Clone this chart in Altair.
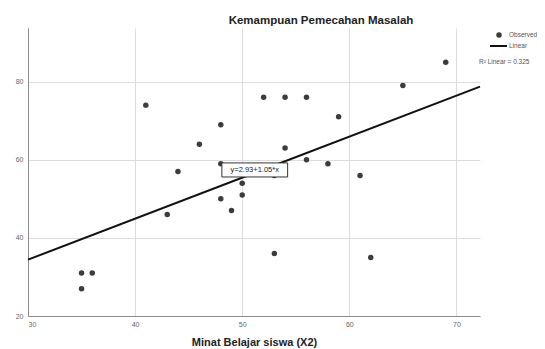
import altair as alt
import pandas as pd

# Observed points (Minat Belajar siswa (X2), Kemampuan Pemecahan Masalah)
minat = [69, 65, 41, 52, 54, 56, 59, 48, 46, 54, 56, 58, 48, 44, 61, 53,
         50, 50, 48, 49, 43, 53, 62, 35, 36, 35]
kemampuan = [85, 79, 74, 76, 76, 76, 71, 69, 64, 63, 60, 59, 59, 57, 56, 56,
             54, 51, 50, 47, 46, 36, 35, 31, 31, 27]

# Linear fit as printed on the chart
fit_intercept = 2.93
fit_slope = 1.05
fit_x_range = [30, 72.2]
fit_label = "y=2.93+1.05*x"
r2_label = "R² Linear = 0.325"

x_ticks = [30, 40, 50, 60, 70]
y_ticks = [20, 40, 60, 80]
x_domain = [30, 72.2]
y_domain = [20, 93.75]

# equation box (data units)
box_center = (51.17, 57.4)
box_half = (3.07, 1.8)

pts = pd.DataFrame({"x": minat, "y": kemampuan})
fit = pd.DataFrame({"x": fit_x_range,
                    "y": [fit_intercept + fit_slope * v for v in fit_x_range]})
box = pd.DataFrame({"x": [box_center[0] - box_half[0]], "x2": [box_center[0] + box_half[0]],
                    "y": [box_center[1] - box_half[1]], "y2": [box_center[1] + box_half[1]],
                    "cx": [box_center[0]], "cy": [box_center[1]], "label": [fit_label]})

xs = alt.Scale(domain=x_domain, nice=False, zero=False)
ys = alt.Scale(domain=y_domain, nice=False, zero=False)

x_axis = alt.Axis(values=x_ticks, grid=True, ticks=False, labelFontSize=7,
                  labelColor="#666", labelPadding=4, domainColor="#8c8c8c",
                  gridColor="#dcdcdc", title="Minat Belajar siswa (X2)",
                  titleFontSize=11, titleFont="Liberation Sans", titleFontWeight="bold",
                  titleColor="#222", titleY=29, titleBaseline="alphabetic")
y_axis = alt.Axis(values=y_ticks, grid=True, ticks=False, labelFontSize=7,
                  labelColor="#666", labelPadding=5, domainColor="#8c8c8c",
                  gridColor="#dcdcdc", title="")

base_x = alt.X("x:Q", scale=xs, axis=x_axis)
base_y = alt.Y("y:Q", scale=ys, axis=y_axis)

points = alt.Chart(pts).mark_circle(size=30, color="#3c3c3c", opacity=1).encode(x=base_x, y=base_y)
line = alt.Chart(fit).mark_line(color="#111", strokeWidth=2).encode(
    x=alt.X("x:Q", scale=xs), y=alt.Y("y:Q", scale=ys))
rect = alt.Chart(box).mark_rect(fill="white", stroke="#333", strokeWidth=1).encode(
    x=alt.X("x:Q", scale=xs), x2="x2:Q", y=alt.Y("y:Q", scale=ys), y2="y2:Q")
rtext = alt.Chart(box).mark_text(fontSize=7.5, color="#222", font="Liberation Sans").encode(
    x=alt.X("cx:Q", scale=xs), y=alt.Y("cy:Q", scale=ys), text="label:N")

# legend (drawn at the right of the plot)
leg = pd.DataFrame({"t": ["Observed", "Linear", r2_label]})
leg_dot = alt.Chart(leg.iloc[[0]]).mark_circle(size=30, color="#3c3c3c", opacity=1).encode(
    x=alt.value(471), y=alt.value(7))
leg_line = alt.Chart(leg.iloc[[1]]).mark_rule(color="#111", strokeWidth=2).encode(
    x=alt.value(462), x2=alt.value(479), y=alt.value(18))
leg_t1 = alt.Chart(leg.iloc[[0]]).mark_text(align="left", baseline="middle", fontSize=6.5,
                                            color="#555", font="Liberation Sans").encode(
    x=alt.value(481), y=alt.value(7), text="t:N")
leg_t2 = alt.Chart(leg.iloc[[1]]).mark_text(align="left", baseline="middle", fontSize=6.5,
                                            color="#555", font="Liberation Sans").encode(
    x=alt.value(481), y=alt.value(18), text="t:N")
leg_t3 = alt.Chart(leg.iloc[[2]]).mark_text(align="left", baseline="middle", fontSize=6.5,
                                            color="#555", font="Liberation Sans").encode(
    x=alt.value(451), y=alt.value(34), text="t:N")

chart = alt.layer(points, line, rect, rtext, leg_dot, leg_line, leg_t1, leg_t2, leg_t3).properties(
    width=452, height=288,
    title=alt.TitleParams("Kemampuan Pemecahan Masalah", fontSize=11.5, font="Liberation Sans",
                          fontWeight="bold", color="#222", dx=67, offset=2),
    autosize=alt.AutoSizeParams(type="none"),
    padding={"left": 20, "top": 20, "right": 57, "bottom": 33},
).configure_view(stroke=None).configure_axis(labelFont="Liberation Sans")

chart.save("out.html", embed_options={"renderer": "svg", "actions": False})
